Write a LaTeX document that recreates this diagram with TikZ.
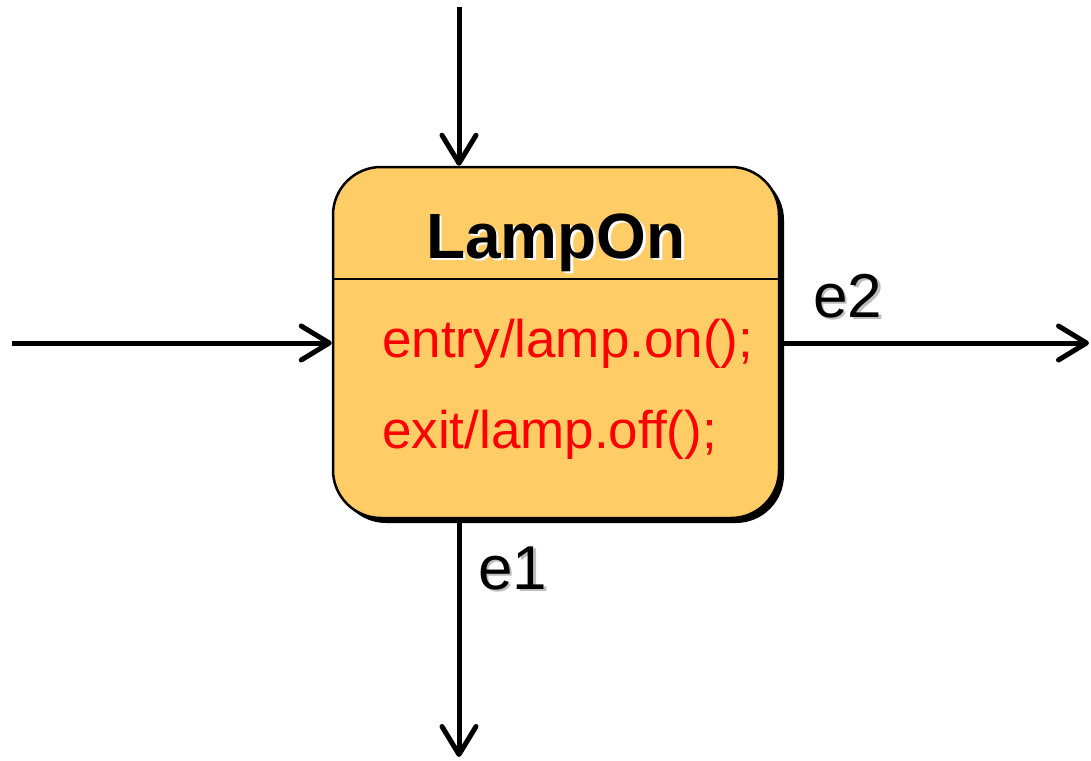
\documentclass[tikz,border=0pt]{standalone}
\usepackage{fontspec}
\setmainfont{Liberation Sans}
\usetikzlibrary{arrows.meta,shadows}
\definecolor{statefill}{RGB}{255,204,102}
\definecolor{actred}{RGB}{255,0,0}
\definecolor{lblshadow}{RGB}{190,190,190}
\newcommand{\shadowedtext}[3]{\rlap{\hspace{#2}\raisebox{-#2}{\textcolor{#1}{#3}}}#3}
\tikzset{
  conn/.style={line width=5pt, -{Straight Barb[length=28pt,width=34pt,round]}},
  statebox/.style={draw=black, line width=2.5pt, fill=statefill, rounded corners=48pt,
    minimum width=446pt, minimum height=351pt, inner sep=0pt,
    general shadow={fill=black, shadow xshift=5pt, shadow yshift=-5pt}},
  titletext/.style={font=\fontsize{64}{77}\selectfont\bfseries, inner sep=0pt, anchor=base},
  acttext/.style={font=\fontsize{53}{64}\selectfont, text=actred, inner sep=0pt, anchor=base west},
  lbltext/.style={font=\fontsize{62}{74}\selectfont, inner sep=0pt, anchor=base west}
}
\begin{document}
\begin{tikzpicture}[x=1pt,y=-1pt]
\useasboundingbox (0,0) rectangle (1091,760);
\node[statebox] (box) at (556,342.5) {};
\draw[line width=2pt] (box.west |- 0,279) coordinate (divl) -- (box.east |- 0,279) coordinate (divr);
% title
\node[titletext, text=black] (title) at (556,258) {\shadowedtext{white}{2.5pt}{LampOn}};
% actions
\node[acttext] (entry) at (382,357) {entry/lamp.on();};
\node[acttext] (exit) at (382,448) {exit/lamp.off();};
% connector end points
\coordinate (topstart) at (459,7);
\coordinate (leftstart) at (12,343);
\coordinate (rightend) at (1089,343);
\coordinate (botend) at (459,757);
\draw[conn] (topstart) -- (topstart |- box.north);
\draw[conn] (leftstart) -- (box.west |- leftstart);
\draw[conn] (box.east |- rightend) -- (rightend);
\draw[conn] (botend |- box.south) -- (botend);
% labels
\node[lbltext] (e2) at (813,317) {\shadowedtext{lblshadow}{2.5pt}{e2}};
\node[lbltext] (e1) at (478,589) {\shadowedtext{lblshadow}{2.5pt}{e1}};
\end{tikzpicture}
\end{document}
